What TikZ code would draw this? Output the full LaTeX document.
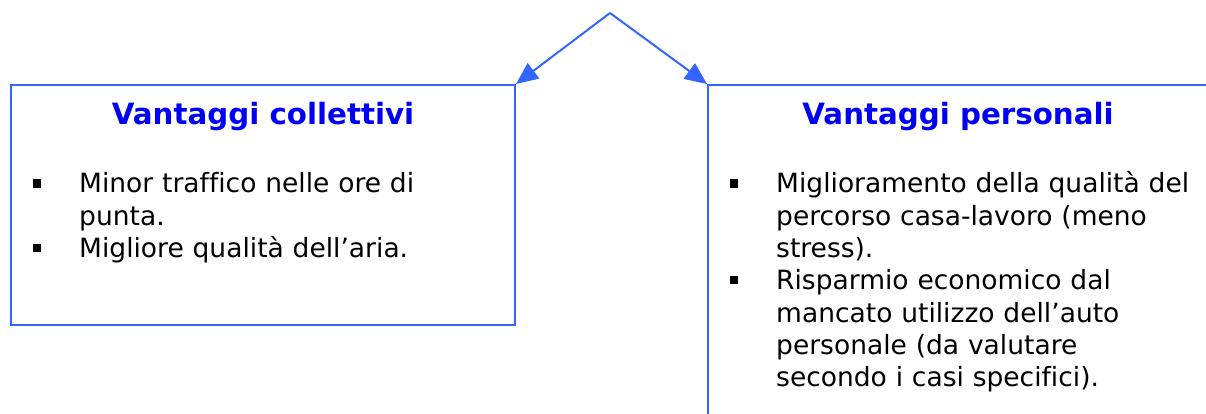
\documentclass[tikz,border=0pt]{standalone}
\usepackage{fontspec}
\setmainfont{DejaVu Sans}[Ligatures=NoCommon]
\usetikzlibrary{arrows.meta}
\definecolor{frameblue}{RGB}{51,102,255}
\definecolor{titleblue}{RGB}{0,0,245}
\begin{document}
\begin{tikzpicture}[x=1pt,y=-1pt,
  panel/.style={draw=frameblue,line width=2pt,anchor=north west,inner sep=0pt},
  link/.style={draw=frameblue,line width=2pt,-{Triangle[length=22pt,width=19pt]}},
  heading/.style={anchor=base,inner sep=0pt,text=titleblue,font=\fontsize{29.3}{35}\selectfont\bfseries},
  item/.style={anchor=base west,inner sep=0pt,text width=440pt,align=left,font=\fontsize{26.5}{32.3}\selectfont},
  bulletmark/.style={fill=black,inner sep=0pt,minimum size=8pt}]
\useasboundingbox (0,0) rectangle (1206,414);

% top split point and the two panels
\coordinate (apex) at (610,13);
\node[panel,minimum width=504pt,minimum height=240pt] (coll) at (10,84) {};
\node[panel,minimum width=502pt,minimum height=360pt] (pers) at (707,84) {};

\draw[link] (apex) -- (coll.north east);
\draw[link] (apex) -- (pers.north west);

% left panel
\node[heading] (tcoll) at (263,125) {Vantaggi collettivi};
\node[bulletmark] (bc1) at (36.5,183.5) {};
\node[item] (c1) at (79,193) {Minor traffico nelle ore di\\punta.};
\node[bulletmark] (bc2) at (36.5,248.1) {};
\node[item] (c2) at (79,257.6) {Migliore qualità dell’aria.};

% right panel
\node[heading] (tpers) at (958,125) {Vantaggi personali};
\node[bulletmark] (bp1) at (733.5,183.5) {};
\node[item] (p1) at (776,193) {Miglioramento della qualità del\\percorso casa-lavoro (meno\\stress).};
\node[bulletmark] (bp2) at (733.5,280.4) {};
\node[item] (p2) at (776,289.9) {Risparmio economico dal\\mancato utilizzo dell’auto\\personale (da valutare\\secondo i casi specifici).};
\end{tikzpicture}
\end{document}
